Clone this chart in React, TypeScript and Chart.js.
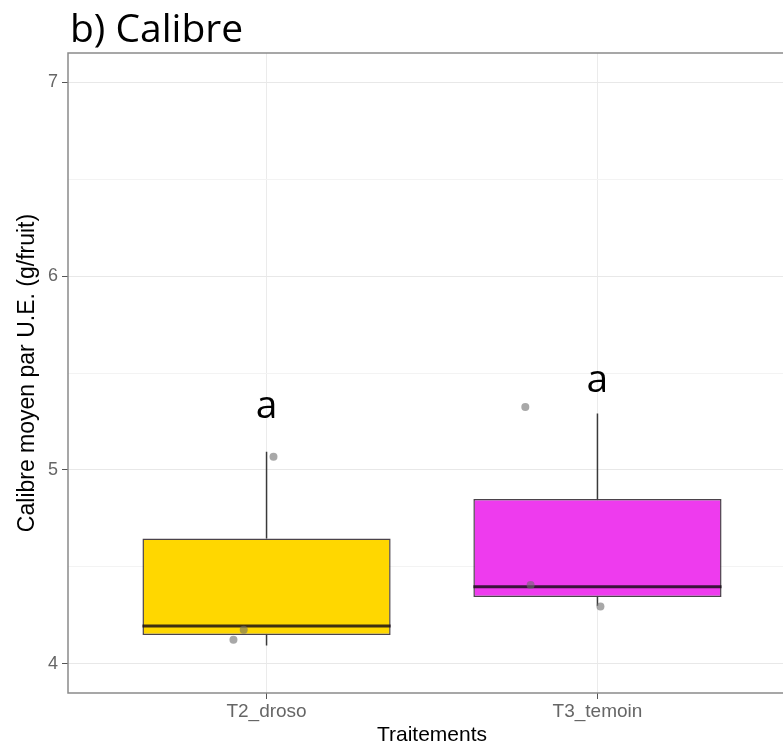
import React, { useEffect, useRef } from 'react';
import { Chart, registerables } from 'chart.js';

Chart.register(...registerables);

// ---- data ----
const CATEGORIES = ['T2_droso', 'T3_temoin'];
const CATEGORY_X = [1, 2];
const WHISKER_LOW = [4.095, 4.3];
const Q1 = [4.149, 4.345];
const MEDIAN = [4.196, 4.398];
const Q3 = [4.646, 4.85];
const WHISKER_HIGH = [5.094, 5.291];
const BOX_COLORS = ['#FFD700', '#EE3BEE'];
const POINTS_X = [1.021, 0.931, 0.9, 1.782, 1.798, 2.009];
const POINTS_Y = [5.068, 4.176, 4.125, 5.325, 4.407, 4.296];
const LETTERS = ['a', 'a'];
const LETTER_Y = [5.32, 5.455];
const Y_TICKS = [4, 4.5, 5, 5.5, 6, 6.5, 7];
const Y_MIN = 3.85;
const Y_MAX = 7.15;
const X_MIN = 0.4;
const X_MAX = 2.6;
const TITLE = 'b) Calibre';
const X_TITLE = 'Traitements';
const Y_TITLE = 'Calibre moyen par U.E. (g/fruit)';

// ---- style ----
const BOX_WIDTH = 0.75;
const SANS = '"Liberation Sans", Arial, sans-serif';
const CALIBRI_LIKE = '"Open Sans", sans-serif';
const BIG_FONT = 39;

const annotate = {
  id: 'annotate',
  afterDatasetsDraw(chart: any) {
    const { ctx, chartArea: a, scales } = chart;
    const xs = scales.x;
    const ys = scales.y;
    ctx.save();
    // panel border
    ctx.strokeStyle = '#8a8a8a';
    ctx.lineWidth = 1.5;
    ctx.strokeRect(a.left, a.top, a.right - a.left, a.bottom - a.top);
    // letters
    ctx.font = `${BIG_FONT}px ${CALIBRI_LIKE}`;
    ctx.fillStyle = '#000';
    ctx.textAlign = 'center';
    ctx.textBaseline = 'alphabetic';
    LETTERS.forEach((t, i) => {
      ctx.fillText(t, xs.getPixelForValue(CATEGORY_X[i]), ys.getPixelForValue(LETTER_Y[i]) + (0.535 * BIG_FONT) / 2);
    });
    // title
    ctx.textAlign = 'left';
    ctx.fillText(TITLE, a.left + 2, 42);
    ctx.restore();
  },
};

export default function App() {
  const ref = useRef<HTMLCanvasElement>(null);
  useEffect(() => {
    const whiskers: any[] = [];
    const medians: any[] = [];
    CATEGORY_X.forEach((c, i) => {
      whiskers.push({ x: c, y: WHISKER_LOW[i] }, { x: c, y: Q1[i] }, { x: c, y: null });
      whiskers.push({ x: c, y: Q3[i] }, { x: c, y: WHISKER_HIGH[i] }, { x: c, y: null });
      medians.push({ x: c - BOX_WIDTH / 2, y: MEDIAN[i] }, { x: c + BOX_WIDTH / 2, y: MEDIAN[i] }, { x: c, y: null });
    });
    const chart = new Chart(ref.current!, {
      type: 'scatter',
      data: {
        datasets: [
          {
            type: 'bar',
            data: CATEGORY_X.map((c, i) => ({ x: c, y: [Q1[i], Q3[i]] })) as any,
            backgroundColor: BOX_COLORS,
            borderColor: 'rgba(30,20,30,0.8)',
            borderWidth: 1.5,
            borderSkipped: false,
            categoryPercentage: 1,
            barPercentage: BOX_WIDTH,
            order: 3,
          } as any,
          {
            type: 'line',
            data: whiskers,
            borderColor: '#3a3a3a',
            borderWidth: 1.5,
            pointRadius: 0,
            spanGaps: false,
            order: 4,
          } as any,
          {
            type: 'line',
            data: medians,
            borderColor: 'rgba(20,10,20,0.82)',
            borderWidth: 3,
            pointRadius: 0,
            spanGaps: false,
            order: 2,
          } as any,
          {
            type: 'scatter',
            data: POINTS_X.map((x, i) => ({ x, y: POINTS_Y[i] })),
            backgroundColor: 'rgba(110,110,110,0.6)',
            borderWidth: 0,
            pointRadius: 4,
            order: 1,
          } as any,
        ],
      },
      options: {
        responsive: false,
        animation: false,
        events: [],
        layout: { padding: { top: 53, right: 4, left: 0, bottom: 0 } },
        plugins: { legend: { display: false }, tooltip: { enabled: false }, title: { display: false } },
        scales: {
          x: {
            type: 'linear',
            min: X_MIN,
            max: X_MAX,
            offset: false,
            afterBuildTicks: (s: any) => {
              s.ticks = CATEGORY_X.map((v) => ({ value: v }));
            },
            afterFit: (s: any) => {
              s.height = 58;
            },
            ticks: {
              callback: (v: any) => CATEGORIES[CATEGORY_X.indexOf(Number(v))] ?? '',
              color: '#666',
              font: { family: SANS, size: 19 },
              padding: 1,
              maxRotation: 0,
              autoSkip: false,
            },
            grid: { color: '#ebebeb', tickColor: '#555', tickLength: 6, lineWidth: 1, offset: false },
            border: { display: false },
            title: { display: true, text: X_TITLE, color: '#000', font: { family: SANS, size: 21 }, padding: { top: 0, bottom: 3 } },
          },
          y: {
            type: 'linear',
            min: Y_MIN,
            max: Y_MAX,
            beginAtZero: false,
            afterBuildTicks: (s: any) => {
              s.ticks = Y_TICKS.map((v) => ({ value: v }));
            },
            afterFit: (s: any) => {
              s.width = 68;
            },
            ticks: {
              callback: (v: any) => (Number.isInteger(Number(v)) ? String(v) : ''),
              color: '#666',
              font: { family: SANS, size: 18 },
              padding: 4,
              autoSkip: false,
            },
            grid: {
              color: (c: any) => (Number.isInteger(c.tick?.value) ? '#e8e8e8' : '#f3f3f3'),
              tickColor: (c: any) => (Number.isInteger(c.tick?.value) ? '#555' : 'rgba(0,0,0,0)'),
              tickLength: 6,
              lineWidth: 1,
            },
            border: { display: false },
            title: { display: true, text: Y_TITLE, color: '#000', font: { family: SANS, size: 23 }, padding: { top: 14, bottom: 0 } },
          },
        },
      },
      plugins: [annotate],
    } as any);
    return () => chart.destroy();
  }, []);
  return (
    <div style={{ position: 'absolute', left: 0, top: 0, width: 783, height: 751, overflow: 'hidden', background: '#fff' }}>
      <canvas ref={ref} width={800} height={751} style={{ display: 'block' }} />
    </div>
  );
}
